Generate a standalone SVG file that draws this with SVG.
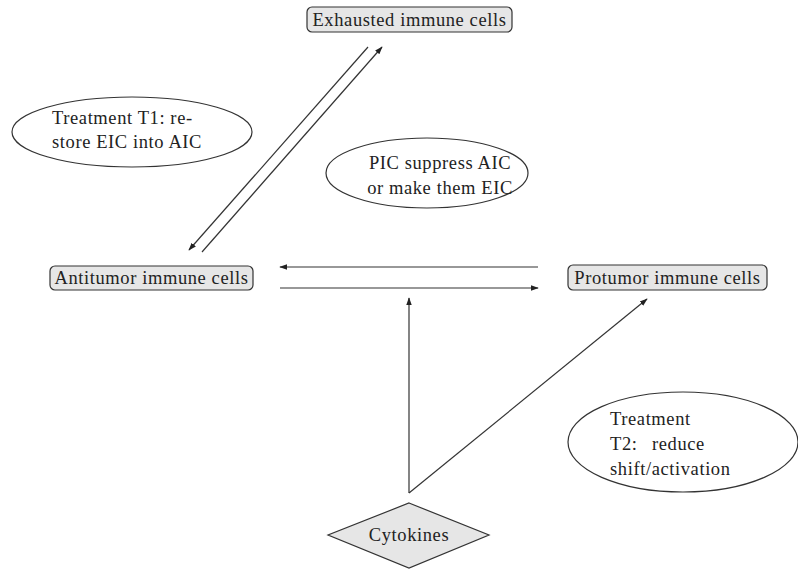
<svg xmlns="http://www.w3.org/2000/svg" width="798" height="569" viewBox="0 0 798 569">
<style>
text{font-family:"Liberation Serif","DejaVu Serif",serif;font-size:18.5px;fill:#222;letter-spacing:0.6px}
.box{fill:#e6e6e6;stroke:#333;stroke-width:1.2}
.ell{fill:#fff;stroke:#333;stroke-width:1.2}
.c{text-anchor:middle}
#connectors line{stroke:#333;stroke-width:1.2;marker-end:url(#ah)}
</style>
<defs>
<marker id="ah" viewBox="0 0 10 10" refX="9" refY="5" markerWidth="8" markerHeight="8" markerUnits="userSpaceOnUse" orient="auto">
<path d="M0,1.5 L10,5 L0,8.5 Z" fill="#222"/>
</marker>
</defs>
<rect width="798" height="569" fill="#fff"/>
<g id="connectors">
<line x1="368" y1="47" x2="189" y2="250"/>
<line x1="202" y1="252" x2="382" y2="47"/>
<line x1="538" y1="267" x2="280" y2="267"/>
<line x1="280" y1="288" x2="538" y2="288"/>
<line x1="409" y1="493" x2="409" y2="298"/>
<line x1="409" y1="493" x2="647" y2="299"/>
</g>
<g id="exhausted">
<rect class="box" x="307" y="7" width="205" height="25" rx="5"/>
<text class="c" x="409.5" y="26">Exhausted immune cells</text>
</g>
<g id="antitumor">
<rect class="box" x="50" y="266" width="203" height="24" rx="5"/>
<text class="c" x="151.5" y="284">Antitumor immune cells</text>
</g>
<g id="protumor">
<rect class="box" x="568" y="265" width="199" height="25" rx="5"/>
<text class="c" x="667.5" y="284">Protumor immune cells</text>
</g>
<g id="cytokines">
<polygon class="box" points="409,503 489,535 409,568 328,535"/>
<text class="c" x="409" y="541">Cytokines</text>
</g>
<g id="t1">
<ellipse class="ell" cx="132" cy="132" rx="120" ry="35"/>
<text x="52" y="124">Treatment T1: re-</text>
<text x="52" y="148">store EIC into AIC</text>
</g>
<g id="pic">
<ellipse class="ell" cx="427" cy="173" rx="101" ry="35"/>
<text class="c" x="440" y="169">PIC suppress AIC</text>
<text class="c" x="440" y="194">or make them EIC</text>
</g>
<g id="t2">
<ellipse class="ell" cx="683" cy="442" rx="115" ry="50"/>
<text x="610" y="425">Treatment</text>
<text x="610" y="450">T2:<tspan x="652">reduce</tspan></text>
<text x="610" y="475">shift/activation</text>
</g>
</svg>
